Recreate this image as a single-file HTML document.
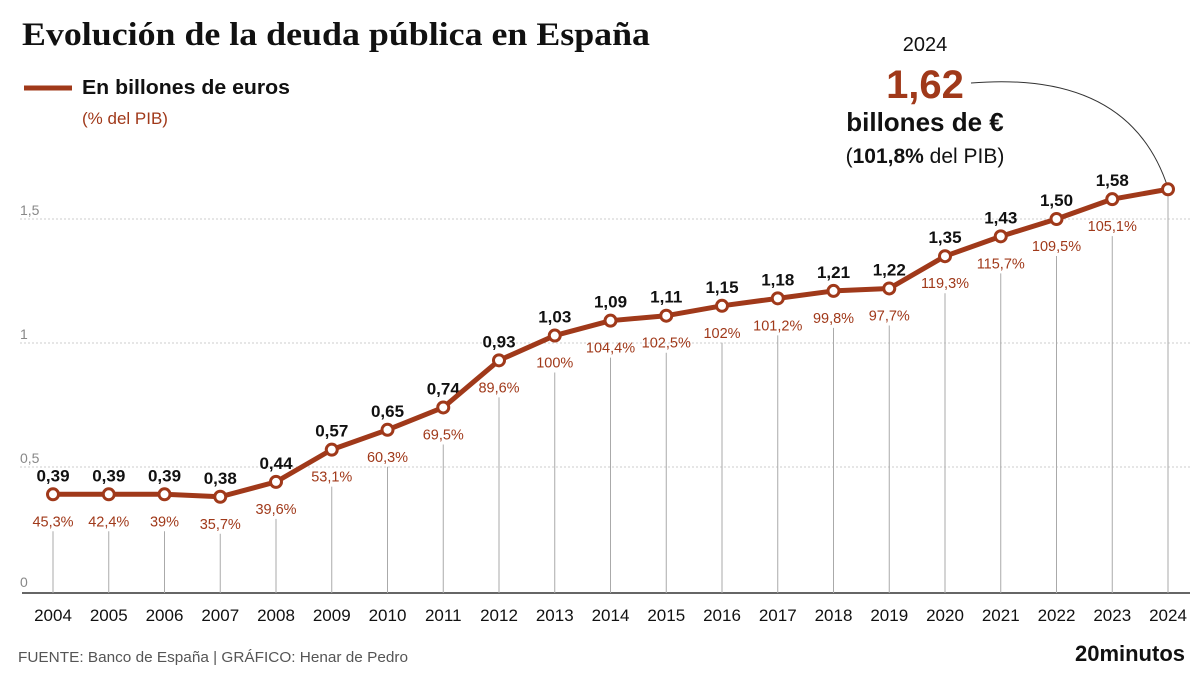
<!DOCTYPE html>
<html><head><meta charset="utf-8"><style>
body{margin:0;background:#fff;}
svg{display:block;font-family:"Liberation Sans",sans-serif;}
</style></head><body>
<svg width="1200" height="675" viewBox="0 0 1200 675">
<text x="22" y="45" font-family="Liberation Serif,serif" font-weight="bold" font-size="33" fill="#111" textLength="628" lengthAdjust="spacingAndGlyphs">Evolución de la deuda pública en España</text>
<line x1="24" y1="88" x2="72" y2="88" stroke="#a0391a" stroke-width="5"/>
<text x="82" y="94" font-size="20" font-weight="bold" fill="#111" textLength="208" lengthAdjust="spacingAndGlyphs">En billones de euros</text>
<text x="82" y="124" font-size="17" fill="#a0391a">(% del PIB)</text>
<text x="925" y="51" font-size="20" fill="#111" text-anchor="middle">2024</text>
<text x="925" y="98" font-size="40" font-weight="bold" fill="#a0391a" text-anchor="middle">1,62</text>
<text x="925" y="131" font-size="26" font-weight="bold" fill="#111" text-anchor="middle">billones de €</text>
<text x="925" y="163" font-size="21" fill="#111" text-anchor="middle">(<tspan font-weight="bold">101,8%</tspan> del PIB)</text>
<path d="M971 83 Q1130 70 1168 188" fill="none" stroke="#333" stroke-width="1"/>
<g stroke="#ccc" stroke-dasharray="2,2" stroke-width="1">
<line x1="20" y1="219" x2="1190" y2="219"/><line x1="20" y1="343" x2="1190" y2="343"/><line x1="20" y1="467" x2="1190" y2="467"/>
</g>
<g font-size="14" fill="#888"><text x="20" y="215">1,5</text><text x="20" y="339">1</text><text x="20" y="463">0,5</text><text x="20" y="587">0</text></g>
<line x1="22" y1="593" x2="1190" y2="593" stroke="#333" stroke-width="1.5"/>
<g id="c"></g>
<text x="18" y="662" font-size="15" fill="#555" textLength="390" lengthAdjust="spacingAndGlyphs">FUENTE: Banco de España  |  GRÁFICO: Henar de Pedro</text>
<text x="1185" y="661" font-size="22" font-weight="bold" fill="#111" text-anchor="end">20minutos</text>
</svg>
<script>
var v=[0.39,0.39,0.39,0.38,0.44,0.57,0.65,0.74,0.93,1.03,1.09,1.11,1.15,1.18,1.21,1.22,1.35,1.43,1.50,1.58,1.62];
var p=["45,3%","42,4%","39%","35,7%","39,6%","53,1%","60,3%","69,5%","89,6%","100%","104,4%","102,5%","102%","101,2%","99,8%","97,7%","119,3%","115,7%","109,5%","105,1%",""];
var g=document.getElementById('c'),s='',pts=[];
for(var i=0;i<21;i++){var x=53+i*55.75,y=591-v[i]*248;pts.push(x+','+y);
var lt=i==20?y:y+37;
s+='<line x1="'+x+'" y1="'+lt+'" x2="'+x+'" y2="593" stroke="#aaa" stroke-width="1"/>';
s+='<text x="'+x+'" y="621" font-size="17" fill="#111" text-anchor="middle">'+(2004+i)+'</text>';
if(i<20){s+='<text x="'+x+'" y="'+(y-13)+'" font-size="17" font-weight="bold" fill="#111" text-anchor="middle">'+v[i].toFixed(2).replace('.',',')+'</text>';
s+='<text x="'+x+'" y="'+(y+32)+'" font-size="14.5" fill="#a0391a" text-anchor="middle">'+p[i]+'</text>';}}
s+='<polyline points="'+pts.join(' ')+'" fill="none" stroke="#a0391a" stroke-width="5" stroke-linejoin="round"/>';
for(i=0;i<21;i++){var q=pts[i].split(',');s+='<circle cx="'+q[0]+'" cy="'+q[1]+'" r="5.5" fill="#fff" stroke="#a0391a" stroke-width="3"/>';}
g.innerHTML=s;
</script>
</body></html>
